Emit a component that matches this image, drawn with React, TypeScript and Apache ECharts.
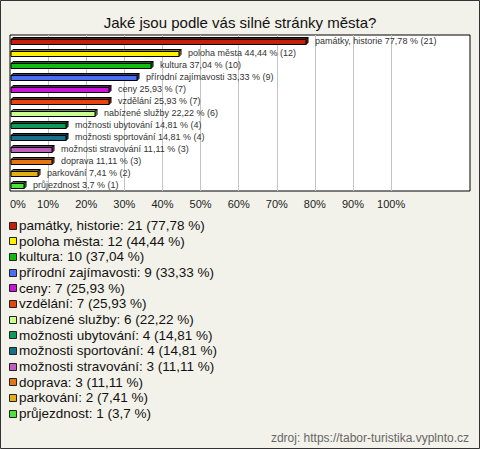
import React, { useEffect, useRef } from "react";
import * as echarts from "echarts";

const categories = [
  "památky, historie",
  "poloha města",
  "kultura",
  "přírodní zajímavosti",
  "ceny",
  "vzdělání",
  "nabízené služby",
  "možnosti ubytování",
  "možnosti sportování",
  "možnosti stravování",
  "doprava",
  "parkování",
  "průjezdnost",
];
const counts = [21, 12, 10, 9, 7, 7, 6, 4, 4, 3, 3, 2, 1];
const percents = [77.78, 44.44, 37.04, 33.33, 25.93, 25.93, 22.22, 14.81, 14.81, 11.11, 11.11, 7.41, 3.7];
const colors = [
  "#c4200c",
  "#fff000",
  "#12bb12",
  "#4b6ff0",
  "#c815d8",
  "#e8440e",
  "#c8ff90",
  "#109a5a",
  "#16708a",
  "#bf5fbf",
  "#e57712",
  "#e2b014",
  "#4fe23a",
];
const title = "Jaké jsou podle vás silné stránky města?";
const source = "zdroj: https://tabor-turistika.vyplnto.cz";

const FONT = "Liberation Sans, Arial, sans-serif";

function fmt(v: number) {
  return String(v).replace(".", ",");
}

function shade(hex: string, f: number) {
  const n = parseInt(hex.slice(1), 16);
  const r = Math.round(((n >> 16) & 255) * f);
  const g = Math.round(((n >> 8) & 255) * f);
  const b = Math.round((n & 255) * f);
  return `rgb(${r},${g},${b})`;
}

export default function App() {
  const ref = useRef<HTMLDivElement>(null);
  useEffect(() => {
    if (!ref.current) return;
    const chart = echarts.init(ref.current, null, { renderer: "svg" });
    const legendItems: any[] = [];
    categories.forEach((c, i) => {
      const cy = 225.5 + i * 15.67;
      legendItems.push({
        type: "rect",
        shape: { x: 9.5, y: Math.round(cy - 4) + 0.5, width: 7, height: 7 },
        style: { fill: colors[i], stroke: "#222", lineWidth: 1 },
      });
      legendItems.push({
        type: "text",
        x: 19,
        y: cy,
        style: {
          text: `${c}: ${counts[i]} (${fmt(percents[i])} %)`,
          font: `13.5px ${FONT}`,
          fill: "#111",
          verticalAlign: "middle",
          align: "left",
        },
      });
    });
    const splitColors = ["transparent"];
    for (let i = 1; i <= 10; i++) splitColors.push("#c4c4c4");
    splitColors.push("transparent", "transparent");

    chart.setOption({
      animation: false,
      backgroundColor: "#f3f2ea",
      title: {
        text: title,
        left: "center",
        top: 10,
        textStyle: { fontSize: 15, fontWeight: "normal", color: "#111", fontFamily: FONT },
      },
      grid: {
        left: 10,
        top: 35,
        width: 460,
        height: 156,
        show: true,
        backgroundColor: "#fff",
        borderColor: "#000",
        borderWidth: 1,
      },
      xAxis: {
        type: "value",
        min: 0,
        max: 120.7,
        interval: 10,
        axisLine: { show: false },
        axisTick: { show: false },
        splitLine: { show: true, lineStyle: { color: splitColors, width: 1 } },
        axisLabel: {
          formatter: (v: number) => (v <= 100 ? `${v}%` : ""),
          color: "#222",
          fontSize: 11,
          fontFamily: FONT,
          margin: 7,
          alignMinLabel: "left",
          showMaxLabel: false,
        },
      },
      yAxis: {
        type: "category",
        data: categories,
        inverse: true,
        axisLine: { show: false },
        axisTick: { show: false },
        axisLabel: { show: false },
        splitLine: { show: false },
      },
      series: [
        {
          type: "custom",
          encode: { x: 0, y: 1 },
          data: percents.map((p, i) => [p, i]),
          renderItem: (params: any, api: any) => {
            const idx = api.value(1);
            const v = api.value(0);
            const s = api.coord([0, idx]);
            const e = api.coord([v, idx]);
            const x0 = Math.round(s[0]) + 1;
            const x1 = Math.round(e[0]);
            const top = Math.round(s[1]) - 2 + 0.5;
            const h = 5;
            const d = 2;
            const col = colors[params.dataIndex];
            const dark = shade(col, 0.55);
            const mid = shade(col, 0.75);
            return {
              type: "group",
              children: [
                {
                  type: "polygon",
                  shape: {
                    points: [
                      [x0, top],
                      [x0 + d, top - d],
                      [x1 + d, top - d],
                      [x1, top],
                    ],
                  },
                  style: { fill: dark, stroke: "#000", lineWidth: 1 },
                },
                {
                  type: "polygon",
                  shape: {
                    points: [
                      [x1, top],
                      [x1 + d, top - d],
                      [x1 + d, top + h - d],
                      [x1, top + h],
                    ],
                  },
                  style: { fill: mid, stroke: "#000", lineWidth: 1 },
                },
                {
                  type: "rect",
                  shape: { x: x0, y: top, width: x1 - x0, height: h },
                  style: { fill: col, stroke: "#000", lineWidth: 1 },
                },
                {
                  type: "text",
                  x: x1 + d + 7,
                  y: top + 1.5,
                  style: {
                    text: `${categories[params.dataIndex]} ${fmt(percents[params.dataIndex])} % (${counts[params.dataIndex]})`,
                    font: `9px ${FONT}`,
                    fill: "#333",
                    verticalAlign: "middle",
                    align: "left",
                  },
                },
              ],
            };
          },
        },
      ],
      graphic: [
        { type: "group", children: legendItems },
        {
          type: "text",
          x: 469,
          y: 438,
          style: {
            text: source,
            font: `12px ${FONT}`,
            fill: "#666",
            align: "right",
            verticalAlign: "middle",
          },
        },
        {
          type: "rect",
          shape: { x: 0.5, y: 0.5, width: 479, height: 448 },
          style: { fill: "none", stroke: "#333", lineWidth: 1 },
        },
      ],
    });
    return () => chart.dispose();
  }, []);
  return (
    <div
      ref={ref}
      style={{ position: "absolute", left: 0, top: 0, width: 480, height: 449 }}
    />
  );
}
